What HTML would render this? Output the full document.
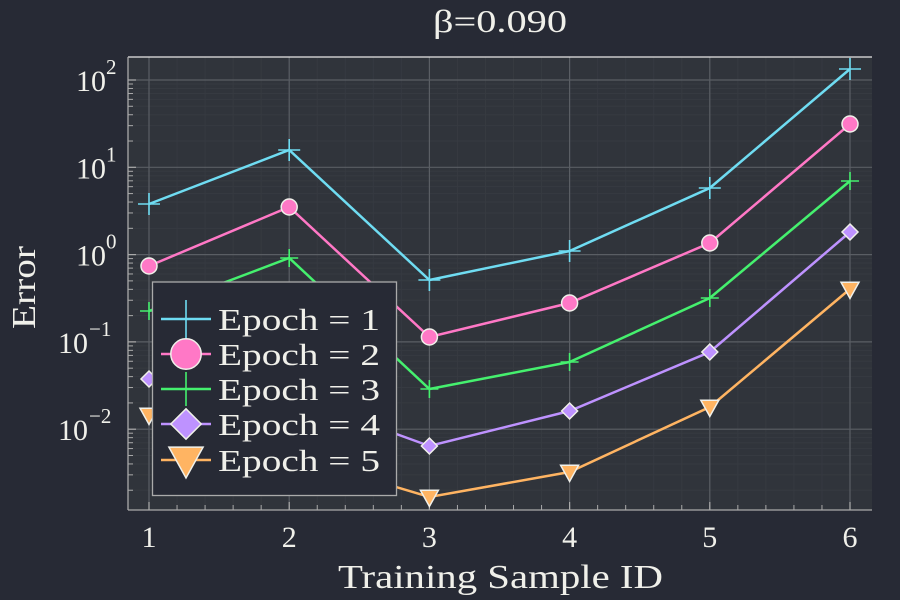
<!DOCTYPE html>
<html><head><meta charset="utf-8"><style>
html,body{margin:0;padding:0;background:#272a35;width:900px;height:600px;overflow:hidden}
svg text{font-family:"Liberation Serif","DejaVu Serif",serif;fill:#f0f0ea}
</style></head><body>
<svg id="s" width="900" height="600" xmlns="http://www.w3.org/2000/svg">
<rect x="0" y="0" width="900" height="600" fill="#272a35"/>
<rect x="128" y="57" width="744" height="453" fill="#30343b"/>
<g id="grid"></g>
<g id="data"></g>
<line x1="128" y1="57" x2="872" y2="57" stroke="#e8e8e8" stroke-width="1.3"/>
<line x1="128" y1="57" x2="128" y2="510" stroke="#aaaaaa" stroke-width="1.3"/>
<line x1="128" y1="510" x2="872" y2="510" stroke="#aaaaaa" stroke-width="1.3"/>
<text x="433" y="32" font-size="32" textLength="134" lengthAdjust="spacingAndGlyphs">β=0.090</text>
<text x="338" y="588" font-size="34" textLength="325" lengthAdjust="spacingAndGlyphs">Training Sample ID</text>
<text transform="translate(35,329) rotate(-90)" font-size="34" textLength="83" lengthAdjust="spacingAndGlyphs">Error</text>
<g id="lab" font-size="30"></g>
<rect x="152.5" y="282" width="244" height="213.5" fill="#272a35" stroke="#aaaaaa" stroke-width="1.3"/>
<g id="leg"></g>
</svg>
<script>
const NS="http://www.w3.org/2000/svg";
function el(p,t,a,txt){const e=document.createElementNS(NS,t);for(const k in a)e.setAttribute(k,a[k]);if(txt!==undefined)e.textContent=txt;p.appendChild(e);return e;}
const g=document.getElementById('grid'),lab=document.getElementById('lab'),d=document.getElementById('data'),lg=document.getElementById('leg');
const X=i=>149+(i-1)*140.2, Y=l=>80+(2-l)*87.3;
for(let v=0.8;v<=6.2;v+=0.2){const x=X(v);if(x<128||x>872)continue;el(g,'line',{x1:x,x2:x,y1:57,y2:510,stroke:'#363a41','stroke-width':1});el(g,'line',{x1:x,x2:x,y1:510,y2:505,stroke:'#aaa','stroke-width':1});}
for(let e=-4;e<=2;e++)for(let m=2;m<10;m++){const y=Y(e+Math.log10(m));if(y<57||y>510)continue;el(g,'line',{x1:128,x2:872,y1:y,y2:y,stroke:'#363a41','stroke-width':1});el(g,'line',{x1:128,x2:133,y1:y,y2:y,stroke:'#aaa','stroke-width':1});}
for(let i=1;i<=6;i++){const x=X(i);el(g,'line',{x1:x,x2:x,y1:57,y2:510,stroke:'#5a5e64','stroke-width':1.2});el(g,'line',{x1:x,x2:x,y1:510,y2:502,stroke:'#aaa','stroke-width':1.2});el(lab,'text',{x:x,y:547,'text-anchor':'middle'},String(i));}
for(let e=-2;e<=2;e++){const y=Y(e);el(g,'line',{x1:128,x2:872,y1:y,y2:y,stroke:'#5a5e64','stroke-width':1.2});el(g,'line',{x1:128,x2:136,y1:y,y2:y,stroke:'#aaa','stroke-width':1.2});
 const neg=e<0;
 el(lab,'text',{x:neg?58:76,y:y+11,textLength:30,lengthAdjust:'spacingAndGlyphs'},'10');el(lab,'text',{x:neg?89:106,y:y-6,'font-size':21},String(e).replace('-','−'));}
const C=['#6fdcf2','#ff78c6','#45f06e','#be92ff','#ffb462'];
const P=[[204,150,280,251,188,69],[266,207,337,303,243,124],[311,258,389,362,298,181],[379,395,446,411,352,232],[415,455,497,472,407,289]];
function mark(p,k,x,y,s){const c=C[k];
 if(k==0||k==2){const r=k==0?11:9;el(p,'path',{d:`M${x-r} ${y}H${x+r}M${x} ${y-r}V${y+r}`,stroke:c,'stroke-width':1.6,fill:'none'});}
 else if(k==1)el(p,'circle',{cx:x,cy:y,r:8*s,fill:c,stroke:'#f0f0ea','stroke-width':1.5});
 else if(k==3){const r=8*s;el(p,'path',{d:`M${x} ${y-r}L${x+r} ${y}L${x} ${y+r}L${x-r} ${y}Z`,fill:c,stroke:'#f0f0ea','stroke-width':1.5});}
 else {const r=9*s;el(p,'path',{d:`M${x-r} ${y-r*0.75}H${x+r}L${x} ${y+r*1.05}Z`,fill:c,stroke:'#f0f0ea','stroke-width':1.5});}}
P.forEach((a,k)=>{el(d,'polyline',{points:a.map((y,i)=>X(i+1)+','+y).join(' '),fill:'none',stroke:C[k],'stroke-width':2.5});a.forEach((y,i)=>mark(d,k,X(i+1),y,1));});
const LY=[319,354,389,424,460];
LY.forEach((y,k)=>{el(lg,'line',{x1:161,x2:211,y1:y,y2:y,stroke:C[k],'stroke-width':2.5});
 if(k==0)el(lg,'path',{d:`M161 ${y}H211M186 ${y-19}V${y+19}`,stroke:C[0],'stroke-width':1.6});
 else if(k==2)el(lg,'path',{d:`M161 ${y}H211M186 ${y-17}V${y+17}`,stroke:C[2],'stroke-width':1.6});
 else mark(lg,k,186,y,1.9);
 el(lg,'text',{x:218,y:y+11,'font-size':31,textLength:162,lengthAdjust:'spacingAndGlyphs'},'Epoch = '+(k+1));});
</script>
</body></html>
